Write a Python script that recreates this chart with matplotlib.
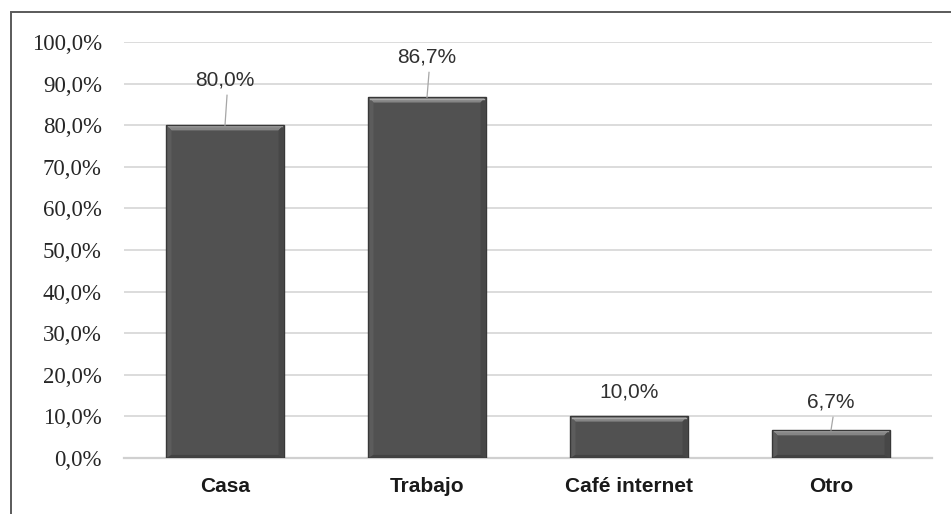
import numpy as np
import matplotlib.pyplot as plt
from matplotlib.patches import Rectangle, Polygon

categories = ["Casa", "Trabajo", "Café internet", "Otro"]
values = [80.0, 86.7, 10.0, 6.7]
value_labels = ["80,0%", "86,7%", "10,0%", "6,7%"]
y_ticks = [0, 10, 20, 30, 40, 50, 60, 70, 80, 90, 100]
y_tick_labels = ["0,0%", "10,0%", "20,0%", "30,0%", "40,0%", "50,0%",
                 "60,0%", "70,0%", "80,0%", "90,0%", "100,0%"]

# label placement above each bar (in % units) and whether a leader line is drawn
label_lift = [10.9, 9.7, 5.9, 6.8]
leader = [True, True, False, True]


def add_bevel(ax, rect, dx=0.025, dy=1.25):
    """Draw a soft bevel (lit top, shaded sides/base) on one bar."""
    x0, y0 = rect.get_x(), rect.get_y()
    w, h = rect.get_width(), rect.get_height()
    x1, y1 = x0 + w, y0 + h
    faces = [
        ([(x0, y1), (x1, y1), (x1 - dx, y1 - dy), (x0 + dx, y1 - dy)], "#858585"),
        ([(x0, y0), (x0 + dx, y0 + dy * 0.6), (x0 + dx, y1 - dy), (x0, y1)], "#5c5c5c"),
        ([(x1, y0), (x1 - dx, y0 + dy * 0.6), (x1 - dx, y1 - dy), (x1, y1)], "#474747"),
        ([(x0, y0), (x1, y0), (x1 - dx, y0 + dy * 0.6), (x0 + dx, y0 + dy * 0.6)], "#424242"),
    ]
    for pts, col in faces:
        ax.add_patch(Polygon(pts, closed=True, facecolor=col, edgecolor="none",
                             zorder=4))
    # bright rim along the top edge
    ax.plot([x0 + dx * 0.3, x1 - dx * 0.3], [y1 - dy * 0.25, y1 - dy * 0.25],
            color="#a8a8a8", linewidth=1.0, zorder=4)
    ax.add_patch(Rectangle((x0, y0), w, h, fill=False, edgecolor="#383838",
                           linewidth=1.0, zorder=5))


def main():
    fig = plt.figure(figsize=(9.51, 5.14), dpi=100)
    ax = fig.add_axes([124 / 951, 56 / 514, 808 / 951, 416 / 514])

    x = np.arange(len(categories))
    width = 0.58

    bars = ax.bar(x, values, width=width, color="#515151", linewidth=0, zorder=3)
    for rect in bars:
        add_bevel(ax, rect)

    # value labels with leader lines
    for xi, v, lab, lift, ld in zip(x, values, value_labels, label_lift, leader):
        ty = v + lift
        ax.text(xi, ty, lab, ha="center", va="center", fontsize=15,
                family="Liberation Sans", color="#303030", zorder=5)
        if ld:
            ax.plot([xi + 0.01, xi], [ty - 3.7, v], color="#a6a6a6",
                    linewidth=0.9, zorder=5)

    ax.set_xlim(-0.5, len(categories) - 0.5)
    ax.set_ylim(0, 100)
    ax.set_yticks(y_ticks)
    ax.set_yticklabels(y_tick_labels, family="Liberation Serif", fontsize=16.5,
                       color="#262626")
    ax.set_xticks(x)
    ax.set_xticklabels(categories, family="Liberation Sans", fontweight="bold",
                       fontsize=15, color="#1a1a1a")
    ax.tick_params(axis="y", length=0, pad=16)
    ax.tick_params(axis="x", length=0, pad=14)

    ax.grid(axis="y", color="#d9d9d9", linewidth=1.3, zorder=0)
    for side in ["top", "right", "left"]:
        ax.spines[side].set_visible(False)
    ax.spines["bottom"].set_color("#d0d0d0")
    ax.spines["bottom"].set_linewidth(1.6)

    # outer frame of the chart area
    fig.patches.append(Rectangle((11 / 951, -0.2), 1.2, 0.2 + (514 - 12) / 514,
                                 transform=fig.transFigure, fill=False,
                                 edgecolor="#5a5a5a", linewidth=1.4))

    fig.savefig("out.png", dpi=100)


if __name__ == "__main__":
    main()
